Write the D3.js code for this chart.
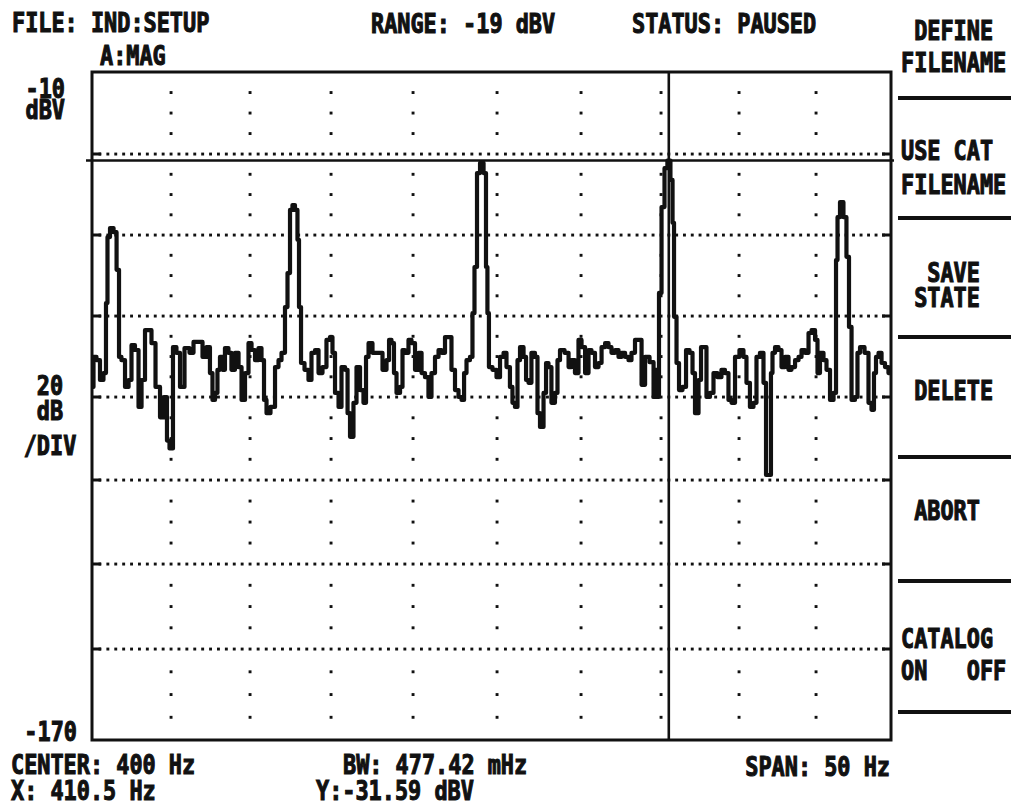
<!DOCTYPE html>
<html>
<head>
<meta charset="utf-8">
<script src="https://cdn.jsdelivr.net/npm/d3@7"></script>
<style>
  html, body { margin: 0; padding: 0; background: #fff; }
  svg { display: block; }
  text { font-family: "DejaVu Sans Mono", monospace; font-weight: bold; fill: #111; stroke: #111; stroke-width: 1.1; white-space: pre; }
</style>
</head>
<body>
<svg id="screen" width="1011" height="808"></svg>
<script>
// grid divisions: 5 Hz per column, 20 dB per row
const freqTicks = [375, 380, 385, 390, 395, 400, 405, 410, 415, 420, 425];
const levelTicks = [-10, -30, -50, -70, -90, -110, -130, -150, -170];

const cursorHz = 410.5;
const cursorDbv = -31.59;

// trace, Hz / dBV
const traceHz = [
  375.00, 375.19, 375.38, 375.63, 375.82, 375.95, 376.01, 376.27, 376.46, 376.65,
  376.77, 376.96, 377.22, 377.41, 377.59, 377.85, 378.04, 378.23, 378.48, 378.67,
  378.86, 379.18, 379.43, 379.68, 379.81, 380.00, 380.25, 380.44, 380.70, 381.01,
  381.33, 381.52, 381.84, 382.15, 382.34, 382.59, 382.66, 382.91, 382.97, 383.23,
  383.29, 383.54, 383.73, 383.92, 384.18, 384.37, 384.56, 384.81, 385.00, 385.19,
  385.43, 385.62, 385.80, 385.93, 386.11, 386.42, 386.67, 386.85, 387.04, 387.28,
  387.35, 387.59, 387.65, 387.90, 387.96, 388.09, 388.21, 388.52, 388.70, 388.89,
  389.14, 389.32, 389.63, 389.81, 390.06, 390.12, 390.37, 390.55, 390.73, 390.98,
  391.04, 391.28, 391.46, 391.65, 391.89, 392.07, 392.20, 392.38, 392.68, 392.99,
  393.29, 393.48, 393.60, 393.78, 393.90, 394.09, 394.33, 394.39, 394.63, 394.82,
  395.00, 395.24, 395.42, 395.60, 395.83, 396.01, 396.19, 396.43, 396.61, 396.79,
  397.02, 397.20, 397.38, 397.62, 397.80, 397.98, 398.10, 398.27, 398.51, 398.57,
  398.75, 398.87, 399.11, 399.29, 399.40, 399.46, 399.58, 399.88, 400.06, 400.30,
  400.48, 400.65, 400.89, 400.95, 401.19, 401.25, 401.49, 401.67, 401.79, 401.96,
  402.14, 402.38, 402.44, 402.68, 402.86, 402.98, 403.15, 403.33, 403.57, 403.63,
  403.87, 404.17, 404.35, 404.52, 404.76, 404.94, 405.13, 405.38, 405.56, 405.75,
  406.00, 406.19, 406.38, 406.63, 406.81, 407.00, 407.25, 407.44, 407.63, 407.88,
  408.06, 408.25, 408.50, 408.69, 408.88, 409.13, 409.44, 409.63, 409.75, 409.81,
  409.94, 410.13, 410.32, 410.50, 410.71, 410.77, 410.90, 411.09, 411.22, 411.54,
  411.67, 411.99, 412.05, 412.31, 412.50, 412.63, 412.82, 413.01, 413.27, 413.46,
  413.78, 413.97, 414.23, 414.42, 414.62, 414.87, 415.19, 415.39, 415.58, 415.84,
  416.04, 416.23, 416.49, 416.69, 416.82, 417.01, 417.14, 417.21, 417.47, 417.66,
  417.86, 418.12, 418.31, 418.51, 418.77, 418.96, 419.16, 419.42, 419.61, 419.81,
  420.07, 420.13, 420.40, 420.60, 420.80, 421.07, 421.27, 421.40, 421.47, 421.73,
  421.93, 422.13, 422.27, 422.47, 422.73, 422.80, 423.07, 423.40, 423.60, 423.80,
  423.93, 424.07, 424.27, 424.47, 424.73, 424.93
];
const traceDbv = [
  -87.5, -80.1, -80.9, -85.8, -84.1, -66.8, -50.5, -48.3, -49.3, -58.6,
  -80.1, -80.9, -87.5, -85.8, -77.2, -78.4, -92.4, -85.8, -73.5, -73.5,
  -76.7, -87.5, -94.9, -90.0, -100.5, -102.4, -77.7, -79.1, -87.5, -77.9,
  -79.1, -76.4, -76.4, -80.1, -77.7, -84.1, -90.7, -89.0, -83.3, -80.1,
  -83.3, -77.9, -79.1, -83.3, -79.1, -82.6, -90.7, -84.1, -76.7, -78.4,
  -80.9, -77.9, -80.9, -90.7, -93.9, -92.4, -82.6, -80.9, -79.1, -67.8,
  -59.4, -43.8, -42.6, -43.8, -51.2, -67.8, -81.6, -83.3, -85.8, -79.1,
  -78.4, -84.1, -82.6, -75.9, -75.2, -79.1, -89.0, -92.4, -82.6, -83.3,
  -93.9, -99.6, -91.4, -82.6, -88.3, -91.4, -80.1, -76.7, -79.1, -79.1,
  -83.3, -80.9, -75.9, -76.7, -84.1, -89.0, -87.5, -78.4, -79.1, -75.9,
  -76.7, -83.3, -79.1, -84.1, -85.1, -90.0, -84.1, -80.1, -78.4, -79.1,
  -75.2, -75.2, -83.3, -88.3, -90.0, -90.7, -84.1, -80.9, -80.1, -69.3,
  -57.9, -34.7, -32.2, -34.7, -57.9, -69.3, -82.6, -83.3, -85.1, -80.1,
  -79.1, -82.6, -87.5, -91.4, -92.4, -80.9, -77.7, -80.1, -85.8, -86.5,
  -79.1, -80.1, -93.9, -97.2, -89.0, -81.6, -82.6, -91.4, -89.0, -80.9,
  -78.4, -79.1, -82.6, -80.9, -84.1, -75.9, -77.7, -84.1, -78.4, -79.1,
  -82.6, -81.6, -77.7, -76.7, -77.7, -79.1, -78.4, -80.1, -79.1, -80.1,
  -80.9, -79.1, -75.9, -75.9, -87.0, -80.1, -81.4, -90.0, -83.3, -90.0,
  -64.3, -43.1, -33.5, -31.6, -36.4, -47.0, -70.2, -81.6, -88.3, -87.5,
  -78.4, -79.1, -84.1, -93.9, -85.8, -77.7, -77.7, -90.0, -89.0, -84.1,
  -85.1, -83.3, -84.1, -90.7, -91.4, -80.1, -78.4, -80.1, -86.5, -92.4,
  -91.4, -80.1, -79.1, -86.5, -108.8, -108.8, -84.1, -79.1, -77.7, -78.4,
  -82.6, -80.1, -83.3, -82.6, -80.9, -80.1, -78.4, -79.1, -74.2, -73.5,
  -75.9, -84.1, -79.1, -80.9, -83.3, -90.7, -89.0, -56.2, -45.6, -41.9,
  -45.6, -55.4, -72.7, -90.7, -90.0, -79.1, -77.7, -79.1, -91.4, -93.1,
  -84.1, -80.1, -79.1, -81.6, -82.6, -84.1
];

const softkeys = [
  [" DEFINE", "FILENAME"],
  ["USE CAT", "FILENAME"],
  ["  SAVE", " STATE"],
  [" DELETE"],
  [" ABORT"],
  ["CATALOG", "ON   OFF"]
];

// the photographed screen is a little uneven, so the division lines
// are placed where they sit on the picture
const gridX = [92, 171, 250, 331, 413, 497, 581, 661, 739, 816, 891];
const gridY = [72, 154, 235, 316, 397, 480, 564, 649, 740];

const svg = d3.select('#screen');
const x = d3.scaleLinear().domain(freqTicks).range(gridX);
const y = d3.scaleLinear().domain(levelTicks).range(gridY);

const plotL = x(freqTicks[0]), plotR = x(freqTicks[freqTicks.length - 1]);
const plotT = y(levelTicks[0]), plotB = y(levelTicks[levelTicks.length - 1]);

const charScale = 0.81;
// one <text> per label; extra lines become tspans, dy = gap to the next baseline
const label = (lines, px, py, anchor = 'start', gaps = []) => {
  if (!Array.isArray(lines)) lines = [lines];
  const t = svg.append('text')
    .attr('transform', `translate(${px},${py}) scale(${charScale},1)`)
    .attr('text-anchor', anchor)
    .attr('font-size', 27)
    .attr('xml:space', 'preserve');
  lines.forEach((str, j) => {
    t.append('tspan')
      .attr('x', 0)
      .attr('dy', j === 0 ? 0 : gaps[j - 1])
      .text(str);
  });
  return t;
};

// dotted grid
const grid = svg.append('g').attr('fill', '#111');
const innerLevels = levelTicks.slice(1, -1);
const innerFreqs = freqTicks.slice(1, -1);

const hDots = [];
innerLevels.forEach((lv) => {
  for (let f = 375.5; f < 425; f += 0.5) hDots.push([f, lv]);
});
const vDots = [];
innerFreqs.forEach((f) => {
  for (let lv = -15; lv > -170; lv -= 5) {
    if (!levelTicks.includes(lv)) vDots.push([f, lv]);
  }
});
grid.selectAll('rect.dot')
  .data(hDots.concat(vDots))
  .join('rect')
  .attr('class', 'dot')
  .attr('x', (d) => x(d[0]) - 1.4)
  .attr('y', (d) => y(d[1]) - 1.4)
  .attr('width', 2.9)
  .attr('height', 2.9);

// short ticks on both side walls
const ticks = svg.append('g').attr('stroke', '#111').attr('stroke-width', 3);
innerLevels.forEach((lv) => {
  ticks.append('line').attr('x1', plotL).attr('x2', plotL + 9).attr('y1', y(lv)).attr('y2', y(lv));
  ticks.append('line').attr('x1', plotR - 9).attr('x2', plotR).attr('y1', y(lv)).attr('y2', y(lv));
});

// frame
svg.append('rect')
  .attr('x', plotL).attr('y', plotT)
  .attr('width', plotR - plotL).attr('height', plotB - plotT)
  .attr('fill', 'none').attr('stroke', '#111').attr('stroke-width', 3);

// markers
svg.append('line')
  .attr('x1', plotL - 6).attr('x2', plotR + 3)
  .attr('y1', y(cursorDbv)).attr('y2', y(cursorDbv))
  .attr('stroke', '#111').attr('stroke-width', 2.6);
svg.append('line')
  .attr('x1', x(cursorHz)).attr('x2', x(cursorHz))
  .attr('y1', plotT).attr('y2', plotB)
  .attr('stroke', '#111').attr('stroke-width', 2.6);

// trace (the analyser draws it in steps)
const line = d3.line()
  .x((i) => x(traceHz[i]))
  .y((i) => y(traceDbv[i]))
  .curve(d3.curveStep);
svg.append('path')
  .attr('d', line(d3.range(traceHz.length)))
  .attr('fill', 'none')
  .attr('stroke', '#111')
  .attr('stroke-width', 4.2)
  .attr('stroke-linejoin', 'round');

// header / footer readouts
label('FILE: IND:SETUP', 12, 32);
label('A:MAG', 100, 65);
label('RANGE: -19 dBV', 371, 33);
label('STATUS: PAUSED', 632, 33);

label(['-10', 'dBV'], 65, 98, 'end', [21]);
label(['20', 'dB', '/DIV'], 50, 395, 'middle', [25, 35]);
label('-170', 77, 741, 'end');

label(['CENTER: 400 Hz', 'X: 410.5 Hz'], 11, 774, 'start', [26]);
label(['BW: 477.42 mHz'], 343, 774);
label(['Y:-31.59 dBV'], 316, 800);
label('SPAN: 50 Hz', 890, 776, 'end');

// softkey column
const keyTop = [40, 160, 282, 400, 520, 648];
const keyGap = [32, 34, 25, 0, 0, 32];
const keySeps = [98, 218, 337, 457, 581, 712];
softkeys.forEach((lines, k) => label(lines, 901, keyTop[k], 'start', [keyGap[k]]));
svg.append('g')
  .selectAll('line')
  .data(keySeps)
  .join('line')
  .attr('x1', 898).attr('x2', 1011)
  .attr('y1', (d) => d).attr('y2', (d) => d)
  .attr('stroke', '#111').attr('stroke-width', 4);
</script>
</body>
</html>
